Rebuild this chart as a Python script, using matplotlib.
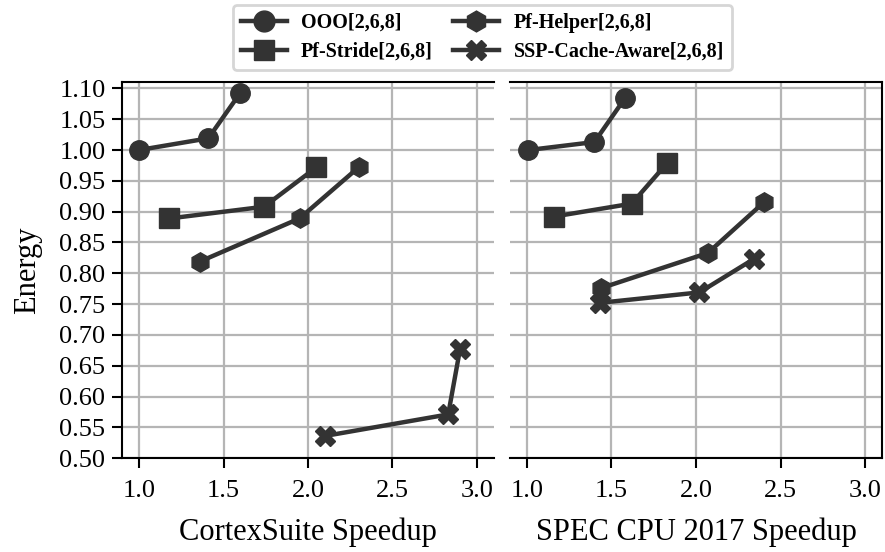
import matplotlib
matplotlib.use('Agg')
import matplotlib.pyplot as plt
from matplotlib.lines import Line2D

plt.rcParams['font.family'] = ['Liberation Serif', 'DejaVu Serif']

series = ['OOO[2,6,8]', 'Pf-Stride[2,6,8]', 'Pf-Helper[2,6,8]', 'SSP-Cache-Aware[2,6,8]']
markers = ['o', 's', 'h', 'X']

# CortexSuite
cs_speedup = [[1.00, 1.41, 1.60],
              [1.18, 1.74, 2.05],
              [1.36, 1.95, 2.30],
              [2.10, 2.83, 2.90]]
cs_energy = [[1.000, 1.019, 1.093],
             [0.889, 0.908, 0.972],
             [0.819, 0.889, 0.972],
             [0.536, 0.571, 0.677]]

# SPEC CPU 2017
spec_speedup = [[1.01, 1.40, 1.58],
                [1.16, 1.62, 1.83],
                [1.44, 2.07, 2.40],
                [1.43, 2.02, 2.34]]
spec_energy = [[1.000, 1.013, 1.084],
               [0.892, 0.913, 0.979],
               [0.776, 0.833, 0.915],
               [0.752, 0.769, 0.823]]

xticks = [1.0, 1.5, 2.0, 2.5, 3.0]
yticks = [0.50, 0.55, 0.60, 0.65, 0.70, 0.75, 0.80, 0.85, 0.90, 0.95, 1.00, 1.05, 1.10]

col = '#333333'
fig = plt.figure(figsize=(8.85, 5.52), dpi=100)
ax1 = fig.add_axes([0.138, 0.170, 0.420, 0.681])
ax2 = fig.add_axes([0.576, 0.170, 0.421, 0.681])

for ax, xs, ys, xl in [(ax1, cs_speedup, cs_energy, 'CortexSuite Speedup'),
                       (ax2, spec_speedup, spec_energy, 'SPEC CPU 2017 Speedup')]:
    for x, y, m in zip(xs, ys, markers):
        ax.plot(x, y, color=col, marker=m, markersize=14, linewidth=3.2, zorder=3)
    ax.set_xlim(0.9, 3.1)
    ax.set_ylim(0.5, 1.11)
    ax.set_xticks(xticks)
    ax.set_xticklabels(['%.1f' % v for v in xticks])
    ax.set_yticks(yticks)
    ax.grid(True, color='#b5b5b5', linewidth=1.6, zorder=0)
    ax.set_axisbelow(True)
    ax.tick_params(labelsize=19, length=7, width=1.5, color='black', pad=5)
    ax.tick_params(axis='x', pad=9)
    ax.set_xlabel(xl, fontsize=22, labelpad=11)
    for s in ax.spines.values():
        s.set_linewidth(1.5)
        s.set_color('black')

ax1.set_yticklabels(['%.2f' % v for v in yticks])
ax1.set_ylabel('Energy', fontsize=22, labelpad=12)
ax1.spines['right'].set_visible(False)
ax2.spines['left'].set_visible(False)
ax2.tick_params(axis='y', left=False, labelleft=False)

handles = [Line2D([], [], color=col, marker=m, markersize=15, linewidth=3.2) for m in markers]
leg = fig.legend(handles, series, loc='upper center', bbox_to_anchor=(0.545, 0.995), ncol=2,
                 prop={'weight': 'bold', 'size': 14.5}, frameon=True, edgecolor='#cccccc',
                 fancybox=True, handlelength=2.3, columnspacing=1.0, borderpad=0.4,
                 labelspacing=0.45, handletextpad=0.7, borderaxespad=0.1)
leg.get_frame().set_linewidth(2)

fig.savefig('out.png', dpi=100)
